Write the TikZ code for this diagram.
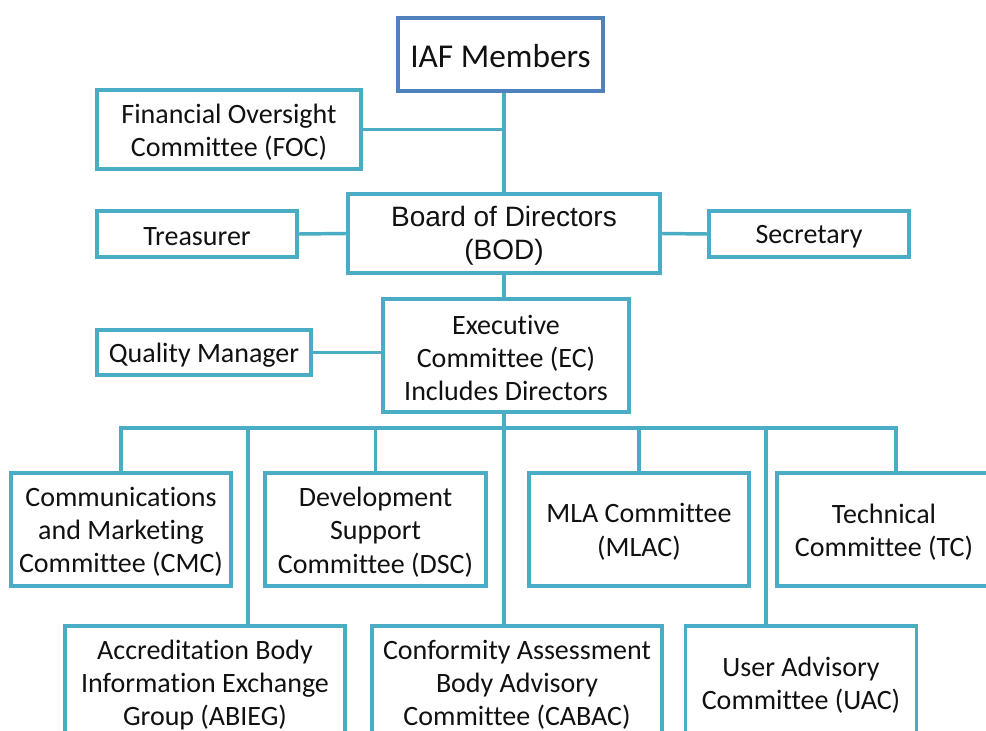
\documentclass[tikz,border=0pt]{standalone}
\usepackage{fontspec}
\setmainfont{Carlito}[Ligatures=NoCommon]
\newfontfamily\arialf{Liberation Sans}
\usetikzlibrary{shadows}
\definecolor{teal}{HTML}{4BACC6}
\definecolor{iafblue}{HTML}{4F81BD}
\definecolor{txt}{HTML}{111111}
\tikzset{
  orgbox/.style={draw=teal, line width=2.6pt, fill=white, inner sep=0pt,
    drop shadow={shadow xshift=1.2pt, shadow yshift=-1.2pt, opacity=0.25, fill=black}},
  orgtext/.style={align=center, text=txt, inner sep=0pt, font=\fontsize{21}{25}\selectfont},
  link/.style={draw=teal, line width=2.6pt}
}
% \orgnode[text style]{name}{x}{y}{width pt}{height pt}{text}
\newcommand\orgnode[7][]{%
  \node[orgbox, minimum width=#5, minimum height=#6] (#2) at (#3,#4) {};
  \node[orgtext, #1] (#2-t) at ([yshift=-1.8pt]#2.center) {#7};
}
\begin{document}
\begin{tikzpicture}[x=0.75pt, y=-0.75pt]
\useasboundingbox (0,0) rectangle (986,731);
\clip (0,0) rectangle (986,731);
% top part
\node[orgbox, draw=iafblue, minimum width=153.75pt, minimum height=54.75pt] (IAF) at (500.5,54.5) {};
\node[orgtext, font=\fontsize{25}{30}\selectfont] (IAF-t) at ([yshift=-1.2pt]IAF.center) {IAF Members};
\orgnode{FOC}{229}{129.5}{198pt}{59.25pt}{Financial Oversight\\Committee (FOC)}
\orgnode[font=\arialf\fontsize{21}{24.75}\selectfont]{BOD}{504}{233.5}{234pt}{59.25pt}{Board of Directors\\(BOD)}
\orgnode{TRE}{197}{234}{150pt}{34.5pt}{Treasurer}
\orgnode{SEC}{809}{234}{150pt}{34.5pt}{Secretary}
\orgnode{EC}{506}{355.5}{184.5pt}{84.75pt}{Executive\\Committee (EC)\\Includes Directors}
\orgnode{QM}{204}{352.5}{160.5pt}{33.75pt}{Quality Manager}
% committees row 1
\orgnode{CMC}{121}{529.5}{165pt}{84.75pt}{Communications\\and Marketing\\Committee (CMC)}
\orgnode{DSC}{375.5}{529.5}{165.75pt}{84.75pt}{Development\\Support\\Committee (DSC)}
\orgnode{MLAC}{639}{529.5}{165pt}{84.75pt}{MLA Committee\\(MLAC)}
\orgnode{TC}{896}{529.5}{178.5pt}{84.75pt}{\hspace*{-18pt}Technical\\\hspace*{-18pt}Committee (TC)}
% committees row 2
\orgnode{ABIEG}{205}{682.5}{210pt}{84.75pt}{Accreditation Body\\Information Exchange\\Group (ABIEG)}
\orgnode{CABAC}{517}{682.5}{217.5pt}{84.75pt}{Conformity Assessment\\Body Advisory\\Committee (CABAC)}
\orgnode{UAC}{801}{682.5}{173.25pt}{84.75pt}{User Advisory\\Committee (UAC)}
% coordinates
\coordinate (bus) at (504,428);
\coordinate (dA) at (248,428);
\coordinate (dU) at (766,428);
% connectors
\path[link] (BOD.north) -- (BOD.north |- IAF.south);
\path[link] (FOC.east) -- (FOC.east -| BOD.north);
\path[link] (TRE.east) -- (BOD.west);
\path[link] (BOD.east) -- (SEC.west);
\path[link] (BOD.south) -- (BOD.south |- EC.north);
\path[link] (QM.east) -- (QM.east -| EC.west);
\path[link] (bus |- EC.south) -- (bus |- CABAC.north);
\path[link] (CMC.north) -- (CMC.north |- bus) -- (TC.north |- bus) -- (TC.north);
\path[link] (DSC.north) -- (DSC.north |- bus);
\path[link] (MLAC.north) -- (MLAC.north |- bus);
\path[link] (dA) -- (dA |- ABIEG.north);
\path[link] (dU) -- (dU |- UAC.north);
\end{tikzpicture}
\end{document}
